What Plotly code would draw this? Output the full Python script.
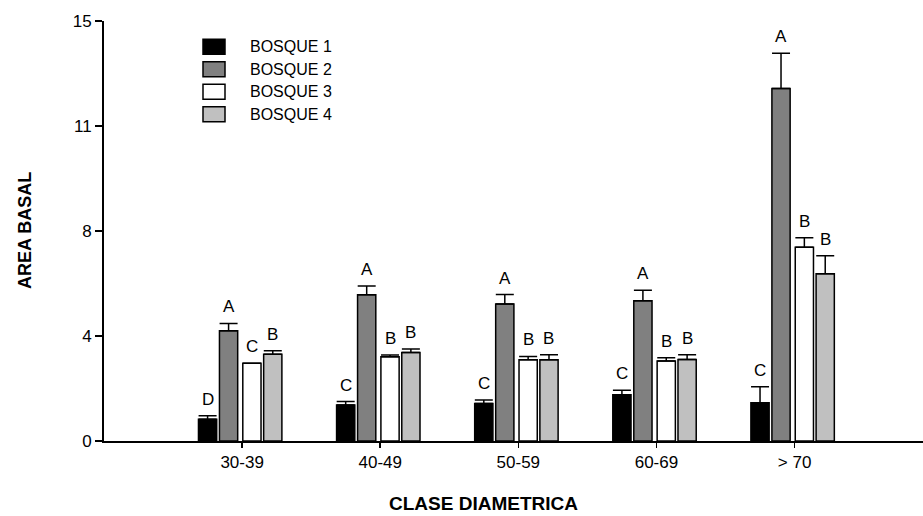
import plotly.graph_objects as go

# ---------------- data ----------------
categories = ["30-39", "40-49", "50-59", "60-69", "> 70"]
series_names = ["BOSQUE 1", "BOSQUE 2", "BOSQUE 3", "BOSQUE 4"]

bosque1 = [0.78, 1.29, 1.34, 1.65, 1.37]
bosque1_err = [0.12, 0.12, 0.12, 0.16, 0.57]
bosque1_letters = ["D", "C", "C", "C", "C"]

bosque2 = [3.94, 5.22, 4.89, 5.01, 12.59]
bosque2_err = [0.26, 0.32, 0.34, 0.37, 1.26]
bosque2_letters = ["A", "A", "A", "A", "A"]

bosque3 = [2.78, 3.01, 2.90, 2.86, 6.92]
bosque3_err = [0.0, 0.06, 0.12, 0.11, 0.34]
bosque3_letters = ["C", "B", "B", "B", "B"]

bosque4 = [3.10, 3.16, 2.90, 2.91, 5.97]
bosque4_err = [0.12, 0.13, 0.18, 0.17, 0.65]
bosque4_letters = ["B", "B", "B", "B", "B"]

y_tick_values = [0, 3.75, 7.5, 11.25, 15]
y_tick_labels = ["0", "4", "8", "11", "15"]

# ---------------- style ----------------
values = [bosque1, bosque2, bosque3, bosque4]
errors = [bosque1_err, bosque2_err, bosque3_err, bosque4_err]
letters = [bosque1_letters, bosque2_letters, bosque3_letters, bosque4_letters]
colors = ["#000000", "#808080", "#ffffff", "#c0c0c0"]
offsets = [-0.316, -0.164, 0.005, 0.156]
bar_w = 0.132

FONT = "Liberation Sans, Arial, sans-serif"

FIG_W, FIG_H = 923, 516
# plot area in page pixels: x 104..923, y 21..441
PL, PR, PT, PB = 104, 923, 21, 441
PW, PH = PR - PL, PB - PT


def px_x(p):
    return (p - PL) / PW


def px_y(p):
    return (PB - p) / PH


fig = go.Figure()
annotations = []
for k in range(4):
    fig.add_trace(go.Bar(
        x=categories, y=values[k], name=series_names[k],
        width=bar_w, offset=offsets[k],
        marker=dict(color=colors[k], line=dict(color="black", width=1.5)),
        error_y=dict(type="data", symmetric=False, array=errors[k],
                     arrayminus=[0] * len(categories),
                     color="black", thickness=1.5, width=9),
        showlegend=False,
    ))
    for i, cat in enumerate(categories):
        annotations.append(dict(
            x=i + offsets[k] + bar_w / 2, y=values[k][i] + errors[k][i],
            xref="x", yref="y", text=letters[k][i], showarrow=False,
            xanchor="center", yanchor="bottom", yshift=5,
            font=dict(family=FONT, size=17, color="black"),
        ))

# manual legend
legend_rows = [46.7, 69.3, 91.7, 114.3]
shapes = []
for k in range(4):
    c = legend_rows[k]
    shapes.append(dict(
        type="rect", xref="paper", yref="paper",
        x0=px_x(203), x1=px_x(225), y0=px_y(c + 7.5), y1=px_y(c - 7.5),
        fillcolor=colors[k], line=dict(color="black", width=1.5),
    ))
    annotations.append(dict(
        x=px_x(248), y=px_y(c), xref="paper", yref="paper",
        text=series_names[k], showarrow=False, xanchor="left", yanchor="middle",
        font=dict(family=FONT, size=16, color="black"),
    ))

# axis titles
annotations.append(dict(
    x=px_x(483), y=px_y(516), xref="paper", yref="paper",
    text="<b>CLASE DIAMETRICA</b>", showarrow=False,
    xanchor="center", yanchor="bottom",
    font=dict(family=FONT, size=19, color="black"),
))
annotations.append(dict(
    x=px_x(25), y=px_y(231), xref="paper", yref="paper",
    text="<b>AREA BASAL</b>", showarrow=False, textangle=-90,
    xanchor="center", yanchor="middle",
    font=dict(family=FONT, size=18, color="black"),
))

fig.update_layout(
    width=FIG_W, height=FIG_H,
    margin=dict(l=PL, r=FIG_W - PR, t=PT, b=FIG_H - PB),
    paper_bgcolor="white", plot_bgcolor="white",
    barmode="overlay",
    showlegend=False,
    hovermode=False,
    annotations=annotations,
    shapes=shapes,
    font=dict(family=FONT, color="black"),
    xaxis=dict(
        type="category", range=[-1.0, 4.93],
        showgrid=False, zeroline=False,
        showline=True, linecolor="black", linewidth=1.5,
        ticks="outside", ticklen=5, tickwidth=1.5, tickcolor="black",
        tickfont=dict(family=FONT, size=17, color="black"),
    ),
    yaxis=dict(
        range=[0, 15], tickvals=y_tick_values, ticktext=y_tick_labels,
        showgrid=False, zeroline=False,
        showline=True, linecolor="black", linewidth=2,
        ticks="outside", ticklen=7, tickwidth=1.5, tickcolor="black",
        tickfont=dict(family=FONT, size=17, color="black"),
    ),
)

fig.write_html(
    "out.html",
    config={"displayModeBar": False, "staticPlot": True},
    post_script="document.body.style.margin='0';document.body.style.overflow='hidden';",
)
